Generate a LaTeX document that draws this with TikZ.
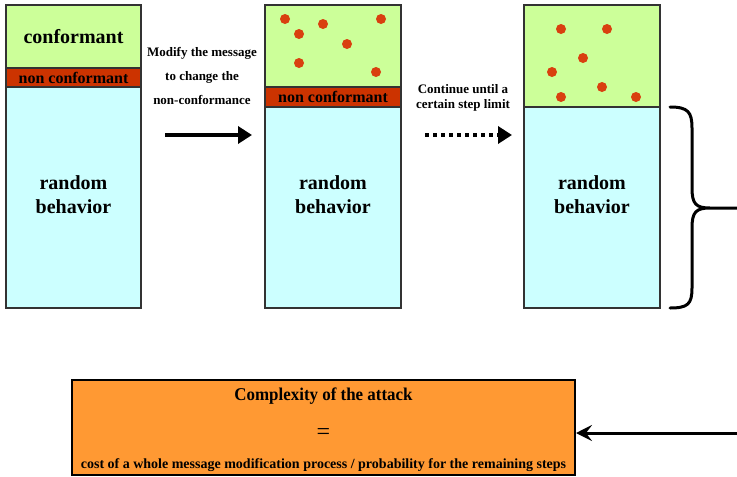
\documentclass[tikz,border=0pt]{standalone}
\usepackage{fontspec}
\setmainfont{Liberation Serif}
\usetikzlibrary{arrows.meta}
\definecolor{okgreen}{HTML}{CCFF99}
\definecolor{randcyan}{HTML}{CCFFFF}
\definecolor{badred}{HTML}{CC3300}
\definecolor{dotred}{HTML}{D9400F}
\definecolor{resorange}{HTML}{FF9933}
\definecolor{edge}{HTML}{333333}
\tikzset{
  seg/.style={draw=edge, line width=1.5pt, inner sep=0pt, anchor=center},
  bigtxt/.style={font=\fontsize{20}{24}\selectfont\bfseries, align=center},
  badtxt/.style={font=\fontsize{16}{18}\selectfont\bfseries},
  smalltxt/.style={font=\fontsize{13}{24}\selectfont\bfseries, align=center},
  spot/.style={fill=dotred, draw=none, circle, minimum size=10pt, inner sep=0pt},
}
\begin{document}
\begin{tikzpicture}[x=1pt, y=-1pt]
\useasboundingbox (0,0) rectangle (737,477);

% first message: conformant / non conformant / random
\node[seg, fill=okgreen, minimum width=135pt, minimum height=63pt] (g1) at (73.5,36.5) {};
\node[bigtxt] at (g1) {conformant};
\node[seg, fill=badred, minimum width=135pt, minimum height=19pt] (r1) at (73.5,77.5) {};
\node[badtxt] at (r1) {non conformant};
\node[seg, fill=randcyan, minimum width=135pt, minimum height=221pt] (c1) at (73.5,197.5) {};
\node[bigtxt] (t1) at (73.5,195) {random\\behavior};

% second message after one modification
\node[seg, fill=okgreen, minimum width=136pt, minimum height=82pt] (g2) at (333,46) {};
\node[seg, fill=badred, minimum width=136pt, minimum height=20pt] (r2) at (333,97) {};
\node[badtxt] at (r2) {non conformant};
\node[seg, fill=randcyan, minimum width=136pt, minimum height=201pt] (c2) at (333,207.5) {};
\node[bigtxt] (t2) at (333,195) {random\\behavior};
\foreach \p in {(285,19),(323,24),(381,19),(299,34),(347,44),(299,63),(376,72)}
  \node[spot] at \p {};

% third message at the step limit
\node[seg, fill=okgreen, minimum width=136pt, minimum height=102pt] (g3) at (592,56) {};
\node[seg, fill=randcyan, minimum width=136pt, minimum height=201pt] (c3) at (592,207.5) {};
\node[bigtxt] (t3) at (592,195) {random\\behavior};
\foreach \p in {(561,29),(607,29),(583,58),(552,72),(602,87),(561,97),(636,97)}
  \node[spot] at \p {};

% step arrows
\node[smalltxt] (m1) at (202,76) {Modify the message\\to change the\\non-conformance};
\coordinate (a1s) at (165,135);
\coordinate (a1e) at (252,135);
\draw[line width=4pt, -{Triangle[length=14pt,width=17pt]}] (a1s) -- (a1e);

\node[smalltxt, font=\fontsize{13}{15}\selectfont\bfseries] (m2) at (463,97.5) {Continue until a\\certain step limit};
\coordinate (a2s) at (425,135);
\coordinate (a2e) at (512,135);
\draw[line width=4pt, dash pattern=on 4pt off 4pt, -{Triangle[length=14pt,width=17pt]}] (a2s) -- (a2e);

% brace over the remaining random steps
\coordinate (bt) at (670,107);
\coordinate (bb) at (670,308);
\coordinate (btip) at (737,208);
\draw[line width=3pt, line cap=round, line join=round]
  (bt) .. controls (688,107) and (692,112) .. (692,128)
  -- (692,188) .. controls (692,204) and (696,208) .. (710,208)
  -- (btip)
  (710,208) .. controls (696,208) and (692,212) .. (692,228)
  -- (692,288) .. controls (692,304) and (688,308) .. (bb);

% resulting complexity
\node[draw=black, line width=2pt, fill=resorange, minimum width=503pt, minimum height=95pt, inner sep=0pt] (res) at (323.5,427) {};
\node[font=\fontsize{18}{20}\selectfont\bfseries, xscale=0.94] at (323.5,396) {Complexity of the attack};
\node[font=\fontsize{24}{26}\selectfont] at (323.5,434) {=};
\node[font=\fontsize{14}{16}\selectfont\bfseries] at (323.5,465) {cost of a whole message modification process / probability for the remaining steps};
\coordinate (in) at (737,433);
\draw[line width=3pt, -{Stealth[length=16pt,width=16pt,inset=6pt]}] (in) -- (res.east |- in);
\end{tikzpicture}
\end{document}
